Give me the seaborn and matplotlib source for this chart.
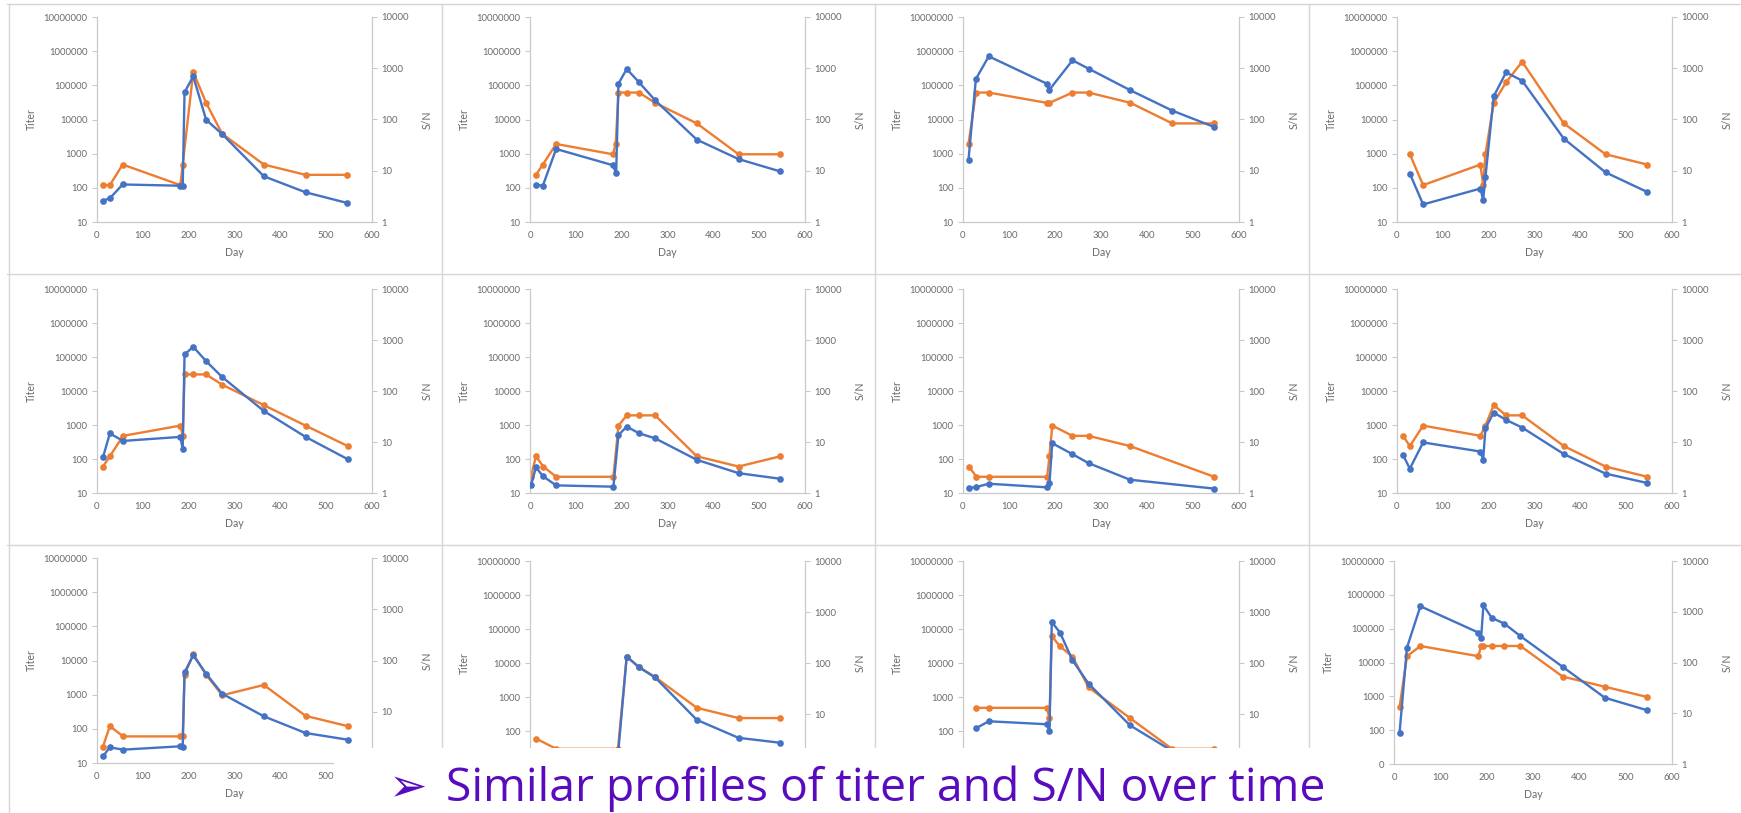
import matplotlib
matplotlib.use("Agg")
import matplotlib.pyplot as plt
import seaborn as sns
from matplotlib.ticker import NullLocator
from matplotlib.patches import Rectangle
from matplotlib.lines import Line2D

sns.set_theme(style="white")
plt.rcParams["font.family"] = ["Lato", "DejaVu Sans"]

# ---------------- data ----------------
X_TICKS = [0, 100, 200, 300, 400, 500, 600]
TITER_TICKS = [10, 100, 1000, 10000, 100000, 1000000, 10000000]
TITER_TICK_LABELS = ["10", "100", "1000", "10000", "100000", "1000000", "10000000"]
SN_TICKS = [1, 10, 100, 1000, 10000]
SN_TICK_LABELS = ["1", "10", "100", "1000", "10000"]

p1_titer_day = [13, 28, 56, 182, 187, 210, 238, 273, 364, 455, 546]
p1_titer = [120, 120, 480, 120, 480, 245760, 30720, 3840, 480, 240, 240]
p1_sn_day = [13, 28, 56, 182, 187, 191, 210, 238, 273, 364, 455, 546]
p1_sn = [2.6, 2.9, 5.4, 5.1, 5.0, 339, 695, 99, 52, 7.8, 3.8, 2.35]

p2_titer_day = [13, 28, 57, 181, 187, 193, 211, 238, 273, 364, 455, 546]
p2_titer = [240, 480, 1920, 960, 1920, 61440, 61440, 61440, 30720, 7680, 960, 960]
p2_sn_day = [12, 28, 57, 181, 188, 193, 211, 238, 273, 364, 455, 546]
p2_sn = [5.35, 5.1, 26.6, 12.8, 8.9, 500, 967, 531, 237, 40.4, 16.9, 9.7]

p3_titer_day = [12, 28, 56, 182, 188, 238, 273, 364, 455, 546]
p3_titer = [1920, 61440, 61440, 30720, 30720, 61440, 61440, 30720, 7680, 7680]
p3_sn_day = [12, 28, 56, 182, 188, 238, 273, 364, 455, 546]
p3_sn = [16.5, 617, 1710, 500, 382, 1427, 982, 371, 149, 71.4]

p4_titer_day = [28, 57, 182, 188, 193, 211, 238, 273, 364, 455, 546]
p4_titer = [960, 120, 480, 120, 960, 30720, 122880, 491520, 7680, 960, 480]
p4_sn_day = [28, 57, 182, 188, 193, 211, 238, 273, 364, 455, 546]
p4_sn = [8.8, 2.2, 4.5, 2.7, 7.6, 283, 832, 572, 42.3, 9.3, 3.85]

p5_titer_day = [13, 28, 57, 182, 187, 191, 210, 238, 273, 364, 455, 547]
p5_titer = [60, 120, 480, 960, 480, 30720, 30720, 30720, 15360, 3840, 960, 240]
p5_sn_day = [13, 28, 57, 182, 187, 191, 210, 238, 273, 364, 455, 547]
p5_sn = [5.0, 14.7, 10.5, 12.6, 7.2, 521, 735, 386, 188, 40.6, 12.6, 4.6]

p6_titer_day = [2, 13, 29, 57, 182, 193, 211, 238, 273, 364, 455, 546]
p6_titer = [30, 120, 60, 30, 30, 960, 1920, 1920, 1920, 120, 60, 120]
p6_sn_day = [2, 13, 29, 57, 182, 193, 211, 238, 273, 364, 455, 546]
p6_sn = [1.41, 3.17, 2.11, 1.41, 1.33, 13.7, 20, 14.8, 11.8, 4.47, 2.45, 1.9]

p7_titer_day = [13, 29, 56, 183, 188, 194, 238, 273, 363, 546]
p7_titer = [60, 30, 30, 30, 120, 960, 480, 480, 240, 30]
p7_sn_day = [13, 29, 56, 183, 188, 194, 238, 273, 363, 546]
p7_sn = [1.25, 1.31, 1.52, 1.29, 1.57, 9.46, 5.77, 3.85, 1.82, 1.22]

p8_titer_day = [13, 28, 57, 182, 193, 211, 238, 273, 364, 455, 546]
p8_titer = [480, 240, 960, 480, 960, 3840, 1920, 1920, 240, 60, 30]
p8_sn_day = [13, 28, 57, 182, 188, 193, 211, 238, 273, 364, 455, 546]
p8_sn = [5.6, 3.0, 9.8, 6.5, 4.5, 18.6, 37.7, 27.1, 19.2, 5.8, 2.4, 1.57]

p9_titer_day = [13, 28, 57, 182, 187, 191, 210, 238, 273, 364, 455, 547]
p9_titer = [30, 120, 60, 60, 60, 3840, 15360, 3840, 960, 1920, 240, 120]
p9_sn_day = [13, 28, 57, 182, 187, 191, 210, 238, 273, 364, 455, 547]
p9_sn = [1.35, 2.02, 1.82, 2.12, 2.05, 58.8, 126, 55.3, 22.5, 8.14, 3.85, 2.85]

p10_titer_day = [13, 57, 192, 211, 238, 273, 364, 455, 546]
p10_titer = [60, 30, 30, 15360, 7680, 3840, 480, 240, 240]
p10_sn_day = [13, 28, 57, 182, 192, 211, 238, 273, 364, 455, 546]
p10_sn = [1.3, 1.5, 1.4, 1.3, 1.6, 134, 81.7, 52.1, 7.67, 3.41, 2.73]

p11_titer_day = [29, 56, 182, 188, 193, 211, 238, 273, 363, 454, 545]
p11_titer = [480, 480, 480, 240, 61440, 30720, 15360, 1920, 240, 30, 30]
p11_sn_day = [29, 56, 182, 188, 193, 211, 238, 273, 363, 454, 545]
p11_sn = [5.3, 7.2, 6.3, 4.6, 637, 393, 113, 39.3, 6.0, 1.9, 1.6]

p12_titer_day = [12, 28, 57, 182, 188, 193, 211, 238, 273, 364, 455, 546]
p12_titer = [480, 15360, 30720, 15360, 30720, 30720, 30720, 30720, 30720, 3840, 1920, 960]
p12_sn_day = [12, 28, 57, 182, 188, 193, 211, 238, 273, 364, 455, 546]
p12_sn = [4.13, 197, 1283, 389, 305, 1343, 757, 585, 330, 82.2, 20.2, 11.5]
# the last panel's lowest titer label is clipped to "0" by the text box on the slide
P12_TITER_TICK_LABELS = ["0", "100", "1000", "10000", "100000", "1000000", "10000000"]

PANELS = [
    (p1_titer_day, p1_titer, p1_sn_day, p1_sn),
    (p2_titer_day, p2_titer, p2_sn_day, p2_sn),
    (p3_titer_day, p3_titer, p3_sn_day, p3_sn),
    (p4_titer_day, p4_titer, p4_sn_day, p4_sn),
    (p5_titer_day, p5_titer, p5_sn_day, p5_sn),
    (p6_titer_day, p6_titer, p6_sn_day, p6_sn),
    (p7_titer_day, p7_titer, p7_sn_day, p7_sn),
    (p8_titer_day, p8_titer, p8_sn_day, p8_sn),
    (p9_titer_day, p9_titer, p9_sn_day, p9_sn),
    (p10_titer_day, p10_titer, p10_sn_day, p10_sn),
    (p11_titer_day, p11_titer, p11_sn_day, p11_sn),
    (p12_titer_day, p12_titer, p12_sn_day, p12_sn),
]

TITLE_TEXT = "Similar profiles of titer and S/N over time"

# ---------------- layout / style ----------------
W, H = 1741, 813
ORANGE = "#ED7D31"
BLUE = "#4472C4"
AXIS_GRAY = "#c9c9c9"
TEXT_GRAY = "#6a6a6a"
PURPLE = "#580cbe"
BORDER = "#d6d6d6"

# plot-area rectangles in pixels: (left, top, right, bottom)
RECTS = [
    (97, 17, 372, 222), (530, 17, 805, 222), (963, 17, 1239, 222), (1397, 17, 1672, 222),
    (97, 289, 372, 493), (530, 289, 805, 493), (963, 289, 1239, 493), (1397, 289, 1672, 493),
    (97, 558, 372, 763), (530, 561, 805, 765), (963, 561, 1239, 765), (1394, 561, 1672, 764),
]
BOX = (334, 748, 1376, 813)  # white text box over the bottom row (left, top, right, bottom)

fig = plt.figure(figsize=(W / 100, H / 100), dpi=100)
fig.patch.set_facecolor("white")


def fx(px):
    return px / W


def fy(py):
    return 1 - py / H


# slide frame lines around the pasted charts
for xv in [9, 442, 875, 1309]:
    fig.add_artist(Line2D([fx(xv), fx(xv)], [fy(4), fy(813)], color=BORDER, lw=1.0, zorder=1))
for yv in [4, 274, 545]:
    fig.add_artist(Line2D([fx(7), fx(1741)], [fy(yv), fy(yv)], color=BORDER, lw=1.0, zorder=1))

all_axes = []
for i, ((l, t, r, b), (td, tv, sd, sv)) in enumerate(zip(RECTS, PANELS)):
    ax = fig.add_axes([fx(l), fy(b), fx(r - l), (b - t) / H])
    ax.set_facecolor("white")
    ax2 = ax.twinx()
    all_axes.append((ax, ax2))

    sns.lineplot(x=td, y=tv, ax=ax, color=ORANGE, marker="o", markersize=4.8,
                 markeredgewidth=0, linewidth=1.7, sort=False, estimator=None)
    sns.lineplot(x=sd, y=sv, ax=ax2, color=BLUE, marker="o", markersize=4.8,
                 markeredgewidth=0, linewidth=1.7, sort=False, estimator=None)

    ax.set_yscale("log")
    ax.set_ylim(10, 1e7)
    ax.set_yticks(TITER_TICKS)
    ax.set_yticklabels(P12_TITER_TICK_LABELS if i == 11 else TITER_TICK_LABELS)
    ax.yaxis.set_minor_locator(NullLocator())
    ax.set_xlim(0, 600)
    ax.set_xticks(X_TICKS)
    ax.set_xticklabels([str(v) for v in X_TICKS])

    ax2.set_yscale("log")
    ax2.set_ylim(1, 1e4)
    ax2.set_yticks(SN_TICKS)
    ax2.set_yticklabels(SN_TICK_LABELS)
    ax2.yaxis.set_minor_locator(NullLocator())

    for s in ["top", "right"]:
        ax.spines[s].set_visible(False)
    for s in ["left", "bottom"]:
        ax.spines[s].set_color(AXIS_GRAY)
        ax.spines[s].set_linewidth(0.9)
    for s in ["top", "left", "bottom"]:
        ax2.spines[s].set_visible(False)
    ax2.spines["right"].set_color(AXIS_GRAY)
    ax2.spines["right"].set_linewidth(0.9)

    ax.tick_params(axis="y", which="both", left=True, length=3.5, width=0.8, color=AXIS_GRAY,
                   labelsize=6.8, labelcolor=TEXT_GRAY, pad=3.2)
    ax.tick_params(axis="x", which="both", bottom=True, length=0, labelsize=6.8,
                   labelcolor=TEXT_GRAY, pad=6.5)
    ax2.tick_params(axis="y", which="both", right=True, length=3.5, width=0.8, color=AXIS_GRAY,
                    labelsize=6.8, labelcolor=TEXT_GRAY, pad=3.2)

    ax.set_xlabel("Day", fontsize=7.6, color=TEXT_GRAY, labelpad=5)
    ax.set_ylabel("Titer", fontsize=7.6, color=TEXT_GRAY, labelpad=5)
    ax2.set_ylabel("S/N", fontsize=7.6, color=TEXT_GRAY, labelpad=9, rotation=90)
    ax.grid(False)
    ax2.grid(False)

# white text box overlapping the bottom row
bl, bt, br, bb = BOX
fig.add_artist(Rectangle((fx(bl), fy(bb)), fx(br - bl), (bb - bt) / H,
                         transform=fig.transFigure, facecolor="white", edgecolor="none",
                         zorder=10))
fig.text(fx(389), fy(789), "\u27a2", ha="left", va="center", fontsize=33,
         color=PURPLE, family=["DejaVu Sans"], zorder=11)
fig.text(fx(446), fy(801), TITLE_TEXT, ha="left", va="baseline", fontsize=33.3,
         color=PURPLE, family=["Open Sans", "DejaVu Sans"], zorder=11)

# texts whose centre sits under the white box are not visible on the slide: hide them
fig.canvas.draw()
renderer = fig.canvas.get_renderer()
for ax, ax2 in all_axes:
    texts = list(ax.get_xticklabels()) + list(ax.get_yticklabels()) + list(ax2.get_yticklabels())
    texts += [ax.xaxis.label]
    for txt in texts:
        if not txt.get_visible() or not txt.get_text():
            continue
        ext = txt.get_window_extent(renderer)
        cx = (ext.x0 + ext.x1) / 2
        cy_top = H - (ext.y0 + ext.y1) / 2
        if bl <= cx <= br and bt <= cy_top <= bb:
            txt.set_visible(False)

fig.savefig("out.png", dpi=100, facecolor="white")
